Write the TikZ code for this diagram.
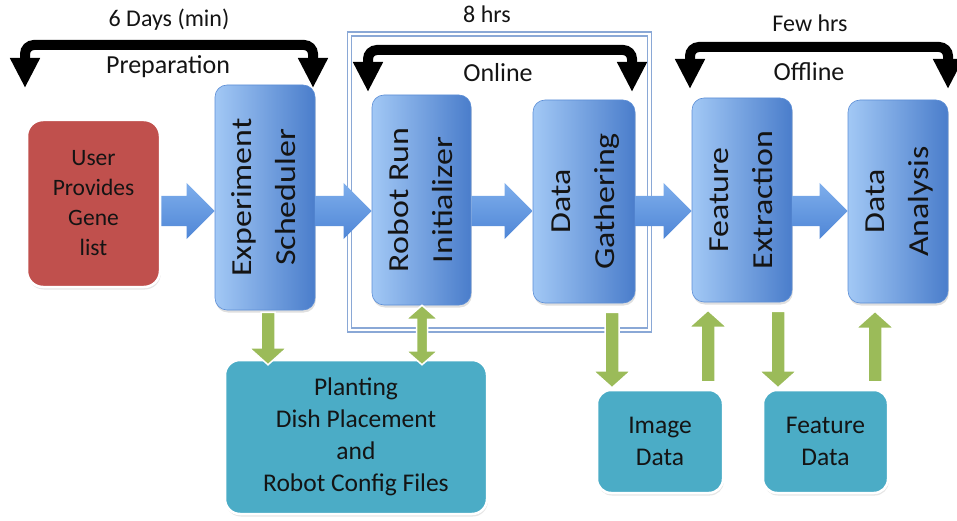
\documentclass[tikz,border=0pt]{standalone}
\usepackage{fontspec}
\usepackage{graphicx}
\setmainfont{Carlito}
\usetikzlibrary{arrows.meta,calc,shadows}

\definecolor{boxlight}{HTML}{A2C8F5}
\definecolor{boxdark}{HTML}{4A7DCB}
\definecolor{boxedge}{HTML}{5C8ED6}
\definecolor{userred}{HTML}{C0504D}
\definecolor{datateal}{HTML}{4BACC6}
\definecolor{linkgreen}{HTML}{9BBB59}
\definecolor{flowlight}{HTML}{7EAEEC}
\definecolor{flowdark}{HTML}{4F86D6}
\definecolor{framecol}{HTML}{8AA8D6}
\definecolor{inkcol}{HTML}{141414}

% two-line label set upright in a tall box, reading bottom to top
\newcommand{\uptext}[2]{\rotatebox{90}{\scalebox{1.17}[1]{\begin{tabular}{@{}c@{}}#1\\#2\end{tabular}}}}

% horizontal block arrow from tail #1 to tip #2
\newcommand{\flowarrow}[2]{%
  \shade[top color=flowlight, bottom color=flowdark]
    let \p1=(#1), \p2=(#2) in
    (\x1,\y1+15pt) -- (\x2-28pt,\y1+15pt) -- (\x2-28pt,\y1+28pt) -- (\x2,\y1)
    -- (\x2-28pt,\y1-28pt) -- (\x2-28pt,\y1-15pt) -- (\x1,\y1-15pt) -- cycle;}

% vertical green arrow from tail #1 to tip #2
\newcommand{\linkarrow}[2]{%
  \filldraw[fill=linkgreen, draw=white, line width=1.5pt]
    let \p1=(#1), \p2=(#2), \n1={sign(\y2-\y1)} in
    (\x1-7pt,\y1) -- (\x1-7pt,{\y2-(\n1)*17pt}) -- (\x1-19pt,{\y2-(\n1)*17pt})
    -- (\x1,\y2) -- (\x1+19pt,{\y2-(\n1)*17pt}) -- (\x1+7pt,{\y2-(\n1)*17pt})
    -- (\x1+7pt,\y1) -- cycle;}

% vertical green arrow with a head at both ends
\newcommand{\linkboth}[2]{%
  \filldraw[fill=linkgreen, draw=white, line width=1.5pt]
    let \p1=(#1), \p2=(#2), \n1={sign(\y2-\y1)} in
    (\x1,\y1) -- (\x1+16pt,{\y1+(\n1)*14pt}) -- (\x1+5.5pt,{\y1+(\n1)*14pt})
    -- (\x1+5.5pt,{\y2-(\n1)*14pt}) -- (\x1+16pt,{\y2-(\n1)*14pt}) -- (\x1,\y2)
    -- (\x1-16pt,{\y2-(\n1)*14pt}) -- (\x1-5.5pt,{\y2-(\n1)*14pt})
    -- (\x1-5.5pt,{\y1+(\n1)*14pt}) -- (\x1-16pt,{\y1+(\n1)*14pt}) -- cycle;}

\tikzset{
  stage/.style={rectangle, rounded corners=12pt, left color=boxlight, right color=boxdark,
    draw=boxedge, line width=0.6pt, inner sep=0pt, text=inkcol,
    font=\fontsize{29}{44}\selectfont,
    drop shadow={opacity=0.25, shadow xshift=0.8pt, shadow yshift=-2.5pt}},
  source/.style={rectangle, rounded corners=16pt, fill=userred, draw=white, line width=2.5pt,
    inner sep=0pt, text=inkcol, align=center, font=\fontsize{23.5}{30}\selectfont,
    drop shadow={opacity=0.2, shadow xshift=0.8pt, shadow yshift=-2.5pt}},
  store/.style={rectangle, rounded corners=15pt, fill=datateal, draw=white, line width=2.5pt,
    inner sep=0pt, text=inkcol, align=center, font=\fontsize{25.5}{32}\selectfont,
    drop shadow={opacity=0.2, shadow xshift=0.8pt, shadow yshift=-2.5pt}},
  onlineframe/.style={rectangle, draw=framecol, line width=1.3pt, double=white,
    double distance=2.6pt, inner sep=0pt},
  span/.style={line width=10pt, rounded corners=9pt,
    {Triangle[length=30pt,width=28pt]}-{Triangle[length=30pt,width=28pt]}},
  toplabel/.style={anchor=base, inner sep=0pt, text=inkcol, font=\fontsize{24}{28}\selectfont},
  phaselabel/.style={anchor=base, inner sep=0pt, text=inkcol, font=\fontsize{26}{30}\selectfont},
}

\begin{document}
\begin{tikzpicture}[x=1pt,y=-1pt]
\useasboundingbox (0,0) rectangle (957,521);

% boundary of the online part of the run
\node[onlineframe, minimum width=300pt, minimum height=296pt] (onlinebox) at (499.5,182) {};

% process stages
\node[source, minimum width=133pt, minimum height=167pt] (user) at (93.5,203.5) {User\\Provides\\Gene\\list};
\node[stage, minimum width=100pt, minimum height=225pt] (sched) at (265,197.5) {\uptext{Experiment}{Scheduler}};
\node[stage, minimum width=99pt, minimum height=210pt] (robot) at (421.5,200) {\uptext{Robot Run}{Initializer}};
\node[stage, minimum width=102pt, minimum height=203pt] (gather) at (584,201.5) {\uptext{Data}{Gathering}};
\node[stage, minimum width=100pt, minimum height=204pt] (extract) at (742,200) {\uptext{Feature}{Extraction}};
\node[stage, minimum width=100pt, minimum height=203pt] (analysis) at (898,201.5) {\uptext{Data}{Analysis}};

% data stores
\node[store, minimum width=262pt, minimum height=154pt] (plant) at (356,437) {Planting\\Dish Placement\\and\\Robot Config Files};
\node[store, rounded corners=14pt, minimum width=126pt, minimum height=103pt] (image) at (660,441.5) {Image\\Data};
\node[store, rounded corners=14pt, minimum width=125pt, minimum height=103pt] (fdata) at (825.5,441.5) {Feature\\Data};

% main flow
\coordinate (ay) at (0,211);
\flowarrow{user.east |- ay}{sched.west |- ay}
\flowarrow{sched.east |- ay}{robot.west |- ay}
\flowarrow{robot.east |- ay}{gather.west |- ay}
\flowarrow{gather.east |- ay}{extract.west |- ay}
\flowarrow{extract.east |- ay}{analysis.west |- ay}

% file and data exchange
\coordinate (gx1) at (268,0);
\coordinate (gx2) at (422,0);
\coordinate (gx3) at (612,0);
\coordinate (gx4) at (708,0);
\coordinate (gx5) at (778,0);
\coordinate (gx6) at (875,0);
\linkarrow{$(sched.south -| gx1)+(0,2)$}{$(plant.north -| gx1)+(0,6)$}
\linkboth{robot.south -| gx2}{$(plant.north -| gx2)+(0,6)$}
\linkarrow{$(gather.south -| gx3)+(0,9)$}{$(image.north -| gx3)+(0,-1)$}
\linkarrow{$(image.north -| gx4)+(0,-7)$}{$(extract.south -| gx4)+(0,8)$}
\linkarrow{$(extract.south -| gx5)+(0,9)$}{$(fdata.north -| gx5)+(0,-1)$}
\linkarrow{$(fdata.north -| gx6)+(0,-7)$}{$(analysis.south -| gx6)+(0,8)$}

% phase spans
\coordinate (pa1) at (25,88);   \coordinate (pm1) at (169,45);  \coordinate (pb1) at (313,88);
\coordinate (pa2) at (368,92);  \coordinate (pm2) at (500,50);  \coordinate (pb2) at (632,92);
\coordinate (pa3) at (690,89);  \coordinate (pm3) at (819,47);  \coordinate (pb3) at (948,89);
\draw[span] (pa1) |- (pm1) -| (pb1);
\draw[span] (pa2) |- (pm2) -| (pb2);
\draw[span] (pa3) |- (pm3) -| (pb3);

% phase names and durations
\node[toplabel] (dur1) at (169,27) {6 Days (min)};
\node[phaselabel] (ph1) at (168,74) {Preparation};
\node[toplabel] (dur2) at (487,23) {8 hrs};
\node[phaselabel] (ph2) at (498,82) {Online};
\node[toplabel] (dur3) at (810,32) {Few hrs};
\node[phaselabel] (ph3) at (809,81) {Offline};
\end{tikzpicture}
\end{document}
